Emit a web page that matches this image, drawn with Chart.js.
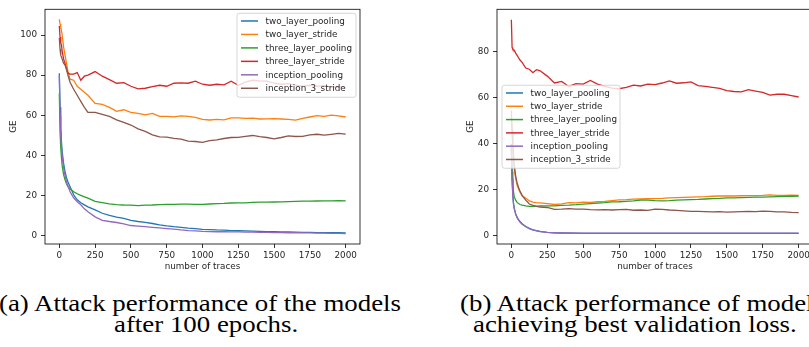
<!DOCTYPE html>
<html><head><meta charset="utf-8">
<script src="https://cdn.jsdelivr.net/npm/chart.js@4.4.1/dist/chart.umd.min.js"></script>
<style>
html,body{margin:0;padding:0;background:#fff;overflow:hidden;width:809px;height:347px;}
#wrap{position:relative;width:809px;height:347px;overflow:hidden;background:#fff;}
canvas{position:absolute;top:0;}
.cap{position:absolute;white-space:nowrap;font-family:"Liberation Serif","Times New Roman",serif;font-size:23px;line-height:23px;color:#000;transform-origin:0 0;}
</style></head><body>
<div id="wrap">
<canvas id="c1" width="400" height="272" style="left:0px"></canvas>
<canvas id="c2" width="420" height="272" style="left:410px"></canvas>
<div class="cap" id="capA1">(a) Attack performance of the models</div>
<div class="cap" id="capA2">after 100 epochs.</div>
<div class="cap" id="capB1">(b) Attack performance of models</div>
<div class="cap" id="capB2">achieving best validation loss.</div>
</div>
<script>
// ---------------- data ----------------
const traces = [0,5,10,15,20,30,40,50,60,75,100,125,150,175,200,
  250,300,350,400,450,500,550,600,650,700,750,800,850,900,950,1000,
  1050,1100,1150,1200,1250,1300,1350,1400,1450,1500,1550,1600,1650,1700,1750,1800,1850,1900,1950,2000];

const seriesLabels = ['two_layer_pooling','two_layer_stride','three_layer_pooling','three_layer_stride','inception_pooling','inception_3_stride'];
const xTickValues = [0,250,500,750,1000,1250,1500,1750,2000];
const yTicksA = [0,20,40,60,80,100];
const yTicksB = [0,20,40,60,80];

// (a) after 100 epochs
const a_two_layer_pooling = [81,64,54,47,42,36,32,29,27,24.5,20.5,18,16.5,15.5,14.5,
  13,11.3,10.2,9.4,8.7,7.8,7.2,6.8,6.2,5.5,5.0,4.6,4.3,3.9,3.6,3.3,
  3.2,3.0,2.9,2.7,2.6,2.5,2.4,2.3,2.2,2.1,2.0,2.0,1.9,1.8,1.8,1.7,1.7,1.6,1.6,1.5];
const a_two_layer_stride = [107.8,105.5,104,102,100,94,90,86,82,78,77.5,74.5,73,71.5,70,
  66,65.5,64,62,62.8,61.5,61,60.3,61,59.5,59.5,59.3,59.8,59.5,59,58,
  57.7,58,57.8,58.8,58.8,58.5,58.6,58.2,58.3,58.4,58.2,58,57.6,58.5,59.2,59.9,59.5,60.1,59.8,59.2];
const a_three_layer_pooling = [71,52,44,39,35,30.5,28,26,24.5,23.5,22,21,20.2,19.5,18.8,
  17.2,16.6,16,15.6,15.4,15.3,15.1,15.3,15.4,15.6,15.7,15.7,15.8,15.8,15.7,15.7,
  15.9,16.1,16.2,16.4,16.5,16.5,16.7,16.8,16.8,16.9,17.0,17.1,17.2,17.3,17.3,17.4,17.5,17.5,17.6,17.5];
const a_three_layer_stride = [104.5,99,96,95,92,88,86,83,81,80.5,80.5,81.3,77.5,79.5,80,
  81.8,79.5,77.8,76,76.3,74.5,73.2,73.5,74.3,75,74.5,76,76.2,76,77,75.5,
  75,75.5,75.2,77,75,76.5,77.5,77.2,77,76,75.5,75.8,75,74.5,75,74.5,74.8,74,74.3,73.8];
const a_inception_pooling = [80,60,50,44,40,34,30,27,25,22,19,17,15.5,13.5,12,
  9.5,7.8,7.2,6.7,6.0,5.2,4.9,4.6,4.3,4.0,3.7,3.4,3.0,2.7,2.5,2.3,
  2.2,2.1,2.1,2.0,2.0,1.9,1.9,1.8,1.8,1.7,1.7,1.6,1.6,1.5,1.5,1.4,1.4,1.3,1.3,1.2];
const a_inception_3_stride = [98.5,93,90,89,88,86,85,83,80,76.5,73,70,67,64,61.5,
  61.5,60.5,59.5,57.8,56.5,55.2,53.3,52,50.3,49.3,49.2,48.6,48.2,47.2,47,46.6,
  47.4,47.8,48.5,49,49.1,49.6,50,49.4,49,48.3,49,49.8,49.5,49.6,50.3,50.6,50.2,50.6,51,50.7];

// (b) best validation loss
const b_two_layer_pooling = [40,25,18,14,12,9.5,8,7,6.2,5.2,4,3.2,2.6,2.2,1.9,
  1.5,1.3,1.2,1.1,1.1,1.0,1.0,1.0,1.0,1.0,1.0,1.0,1.0,1.0,1.0,1.0,
  1.0,1.0,1.0,1.0,1.0,1.0,1.0,1.0,1.0,1.0,1.0,1.0,1.0,1.0,1.0,1.0,1.0,1.0,1.0,1.0];
const b_two_layer_stride = [52,45,38,33,29,25,22,20.5,19,17.5,16.3,15.2,14.6,14.4,14.3,
  14,13.6,13.9,14.4,14.3,14.6,14.5,14.8,15,15.3,15.6,15.7,15.9,16,16.1,16.2,
  16.3,16.5,16.6,16.7,16.8,16.9,17,17.2,17.3,17.3,17.3,17.4,17.5,17.5,17.6,17.8,17.6,17.6,17.7,17.6];
const b_three_layer_pooling = [38,28,22,19,17,15.5,14.5,14,13.6,13.3,13,12.8,12.8,12.9,13,
  13,13,13.2,13.3,13.5,13.8,14,14.2,14.4,14.7,14.8,15,15.2,15.5,15.5,15.3,
  15.2,15.3,15.5,15.6,15.7,15.8,16,16.2,16.3,16.5,16.5,16.6,16.7,16.8,16.8,16.9,17,17.1,17.2,17.3];
const b_three_layer_stride = [94,82,81.2,81,80.8,79.5,78.5,77.5,76.5,75.5,73,72.5,71,72.3,71.8,
  69.5,66.5,67.2,65,66.2,66,67.6,66,65,64.3,64,64.6,65.6,65.2,66,65.8,
  66.5,67.4,66.4,66.6,67,65.4,65,64.6,64.2,63.2,62.8,62.6,63.6,63,62.4,61.2,61.6,61.6,61,60.4];
const b_inception_pooling = [38,24,17.5,13.8,11.8,9.3,7.8,6.8,6,5,3.9,3.1,2.5,2.1,1.8,
  1.5,1.3,1.2,1.2,1.15,1.1,1.1,1.1,1.1,1.1,1.1,1.1,1.1,1.1,1.1,1.1,
  1.1,1.1,1.1,1.1,1.1,1.1,1.1,1.1,1.1,1.1,1.1,1.1,1.1,1.1,1.1,1.1,1.1,1.1,1.1,1.1];
const b_inception_3_stride = [54.5,46,40,35,31,26,23,21,19.5,17.5,15.5,13.8,13.2,12.8,12.5,
  12.3,11.5,11.6,11.8,11.6,11.6,11.4,11.3,11.4,11.2,11.4,11.5,11.1,11.2,11.0,11.6,
  11.5,11.2,11.0,10.8,10.6,10.6,10.5,10.4,10.5,10.3,10.4,10.5,10.6,10.5,10.7,10.6,10.4,10.4,10.2,10.1];

// ---------------- styling ----------------
const colors = ['#1f77b4','#ff7f0e','#2ca02c','#d62728','#9467bd','#8c564b'];
const FONT = {family:'"DejaVu Sans", sans-serif', size:8.8, lineHeight:1.2};
const TEXT = '#262626';

const framePlugin = {
  id:'frame',
  afterDatasetsDraw(chart){
    const {ctx, chartArea:a} = chart;
    ctx.save(); ctx.strokeStyle='#000'; ctx.lineWidth=0.8;
    ctx.strokeRect(a.left, a.top, a.right-a.left, a.bottom-a.top);
    ctx.restore();
  }
};
const legendPlugin = {
  id:'mplLegend',
  afterDraw(chart, args, o){
    const {ctx, chartArea:a} = chart;
    const w = o.width, h = o.height;
    const left = o.alignRight ? a.right - o.dx - w : a.left + o.dx;
    const top = a.top + o.dy;
    ctx.save();
    ctx.beginPath();
    if (ctx.roundRect) ctx.roundRect(left, top, w, h, 2.5); else ctx.rect(left, top, w, h);
    ctx.fillStyle='rgba(255,255,255,0.8)'; ctx.fill();
    ctx.strokeStyle='#cccccc'; ctx.lineWidth=0.8; ctx.stroke();
    ctx.font = FONT.size + 'px ' + FONT.family;
    ctx.textBaseline='middle'; ctx.textAlign='left';
    chart.data.datasets.forEach((ds,i)=>{
      const y = top + 7.7 + i*o.rowGap;
      ctx.strokeStyle = ds.borderColor; ctx.lineWidth = 1.5;
      ctx.beginPath(); ctx.moveTo(left+4, y); ctx.lineTo(left+21, y); ctx.stroke();
      ctx.fillStyle = TEXT;
      ctx.fillText(ds.label, left+28.5, y+0.5);
    });
    ctx.restore();
  }
};

function makeChart(id, seriesValues, yMin, yMax, yTicks, pad, yWidth, legendOpts){
  const datasets = seriesValues.map((vals,i)=>({
    label: seriesLabels[i],
    data: traces.map((x,j)=>({x:x, y:vals[j]})),
    borderColor: colors[i], backgroundColor: colors[i],
    borderWidth: 1.3, pointRadius: 0, tension: 0, fill:false,
    order: seriesValues.length - i
  }));
  const gridCfg = {drawOnChartArea:false, drawTicks:true, tickLength:4, tickColor:'#000', tickWidth:0.8};
  return new Chart(document.getElementById(id), {
    type:'line',
    data:{datasets},
    options:{
      responsive:false, animation:false, events:[],
      layout:{padding:pad},
      plugins:{legend:{display:false}, tooltip:{enabled:false}, mplLegend:legendOpts},
      scales:{
        x:{type:'linear', min:-100, max:2100,
          afterBuildTicks: ax => { ax.ticks = xTickValues.map(v=>({value:v})); },
          afterFit: ax => { ax.height = 28; },
          grid:gridCfg, border:{display:false},
          ticks:{font:FONT, color:TEXT, padding:2, maxRotation:0, autoSkip:false, callback:v=>String(v)},
          title:{display:true, text:'number of traces', font:FONT, color:TEXT, padding:{top:0,bottom:0}}
        },
        y:{type:'linear', min:yMin, max:yMax,
          afterBuildTicks: ax => { ax.ticks = yTicks.map(v=>({value:v})); },
          afterFit: ax => { ax.width = yWidth; },
          grid:gridCfg, border:{display:false},
          ticks:{font:FONT, color:TEXT, padding:4, autoSkip:false, callback:v=>String(v)},
          title:{display:true, text:'GE', font:FONT, color:TEXT, padding:{top:0,bottom:0}}
        }
      }
    },
    plugins:[framePlugin, legendPlugin]
  });
}

makeChart('c1',
  [a_two_layer_pooling,a_two_layer_stride,a_three_layer_pooling,a_three_layer_stride,a_inception_pooling,a_inception_3_stride],
  -4, 112.8, yTicksA, {left:8,right:40,top:9,bottom:0}, 37,
  {alignRight:true, dx:4, dy:4, width:119, height:84, rowGap:13.46});
makeChart('c2',
  [b_two_layer_pooling,b_two_layer_stride,b_three_layer_pooling,b_three_layer_stride,b_inception_pooling,b_inception_3_stride],
  -3.6, 98.6, yTicksB, {left:55,right:17,top:9,bottom:0}, 32,
  {alignRight:false, dx:5, dy:76, width:118, height:83, rowGap:13.3});

// ---------------- captions ----------------
function measure(id){
  const el = document.getElementById(id);
  const m = document.createElement('span');
  m.style.cssText='display:inline-block;width:0;height:0;vertical-align:baseline';
  el.appendChild(m);
  return {el, off:m.offsetTop, w:el.getBoundingClientRect().width};
}
function place(info, s, left, baseline){
  info.el.style.left = left + 'px';
  info.el.style.top = (baseline - info.off) + 'px';
  info.el.style.transform = 'scaleX(' + s + ')';
}
const mA1 = measure('capA1'), mA2 = measure('capA2'), mB1 = measure('capB1'), mB2 = measure('capB2');
const s = 402 / mA1.w;
place(mA1, s, -1, 311);
place(mA2, s, 206.5 - mA2.w*s/2, 332);
place(mB1, s, 460, 311);
place(mB2, s, 635 - mB2.w*s/2, 332);
</script>
</body></html>
